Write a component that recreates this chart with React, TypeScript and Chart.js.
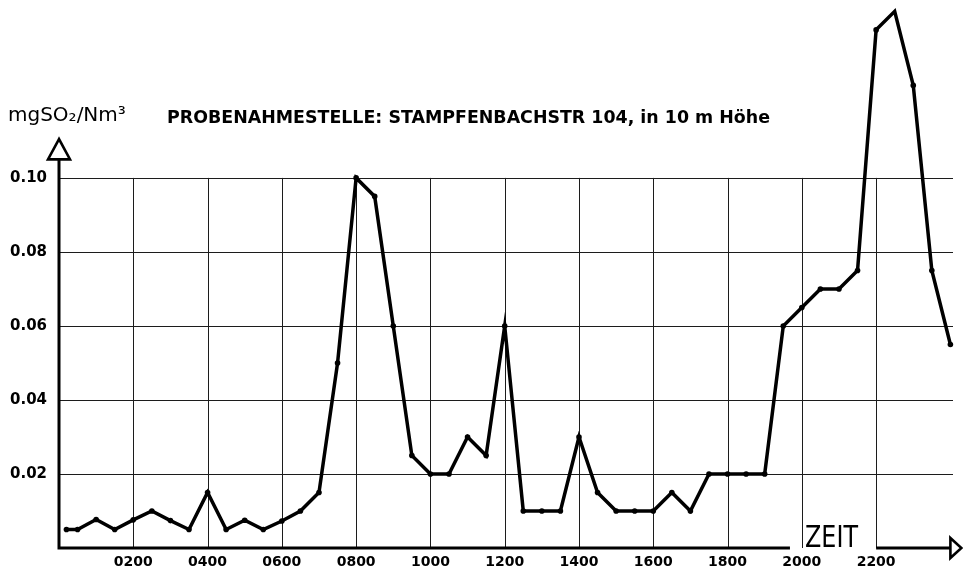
import { useEffect, useRef } from "react";
import { Chart, registerables } from "chart.js";

Chart.register(...registerables);

// time of day in hours
const hours = [
  0.2, 0.5, 1, 1.5, 2, 2.5, 3, 3.5, 4, 4.5, 5, 5.5, 6, 6.5, 7, 7.5, 8, 8.5, 9, 9.5,
  10, 10.5, 11, 11.5, 12, 12.5, 13, 13.5, 14, 14.5, 15, 15.5, 16, 16.5, 17, 17.5,
  18, 18.5, 19, 19.5, 20, 20.5, 21, 21.5, 22, 22.5, 23, 23.5, 24,
];
// SO2 concentration, mg/Nm³
const so2 = [
  0.005, 0.005, 0.0077, 0.005, 0.0076, 0.01, 0.0074, 0.005, 0.015, 0.005, 0.0075,
  0.005, 0.0073, 0.01, 0.015, 0.05, 0.1, 0.095, 0.06, 0.025,
  0.02, 0.02, 0.03, 0.025, 0.06, 0.01, 0.01, 0.01, 0.03, 0.015, 0.01, 0.01, 0.01,
  0.015, 0.01, 0.02, 0.02, 0.02, 0.02, 0.06, 0.065, 0.07, 0.07, 0.075, 0.14, 0.145,
  0.125, 0.075, 0.055,
];
const xTickHours = [2, 4, 6, 8, 10, 12, 14, 16, 18, 20, 22];
const yTickValues = [0.02, 0.04, 0.06, 0.08, 0.1];
const yUnitLabel = "mgSO₂/Nm³";
const chartTitle = "PROBENAHMESTELLE: STAMPFENBACHSTR 104, in 10 m Höhe";
const xAxisLabel = "ZEIT";

const decor = {
  id: "decor",
  beforeDatasetsDraw(chart: any) {
    const { ctx, chartArea, scales } = chart;
    const x = scales.x;
    const y = scales.y;
    const y0 = y.getPixelForValue(0);
    const x0 = x.getPixelForValue(0);
    const yTop = y.getPixelForValue(0.1);
    ctx.save();
    ctx.strokeStyle = "#1c1c1c";
    ctx.lineWidth = 1;
    ctx.beginPath();
    for (const v of yTickValues) {
      const py = Math.round(y.getPixelForValue(v)) + 0.5;
      ctx.moveTo(chartArea.left, py);
      ctx.lineTo(chartArea.right, py);
    }
    for (const h of xTickHours) {
      const px = Math.round(x.getPixelForValue(h)) + 0.5;
      ctx.moveTo(px, yTop);
      ctx.lineTo(px, y0);
    }
    ctx.stroke();

    // axes
    ctx.strokeStyle = "#000";
    ctx.lineWidth = 3;
    ctx.lineCap = "butt";
    const yArrowBase = y.getPixelForValue(0.105);
    const yArrowTip = y.getPixelForValue(0.1105);
    ctx.beginPath();
    ctx.moveTo(x0, y0 + 1.5);
    ctx.lineTo(x0, yArrowBase);
    ctx.moveTo(x0 - 1.5, y0);
    ctx.lineTo(x.getPixelForValue(19.68), y0);
    ctx.moveTo(x.getPixelForValue(22), y0);
    ctx.lineTo(x.getPixelForValue(24.0), y0);
    ctx.stroke();

    ctx.lineWidth = 2.6;
    ctx.lineJoin = "miter";
    ctx.beginPath();
    ctx.moveTo(x0, yArrowTip);
    ctx.lineTo(x0 - 11, yArrowBase);
    ctx.lineTo(x0 + 11, yArrowBase);
    ctx.closePath();
    ctx.stroke();

    const xb = x.getPixelForValue(24.0);
    ctx.beginPath();
    ctx.moveTo(xb, y0 - 10);
    ctx.lineTo(xb + 11, y0);
    ctx.lineTo(xb, y0 + 10);
    ctx.closePath();
    ctx.stroke();

    // texts
    ctx.fillStyle = "#000";
    ctx.textAlign = "left";
    ctx.textBaseline = "alphabetic";
    ctx.font = "20px 'DejaVu Sans'";
    ctx.fillText(yUnitLabel, 8, 121, 120);
    ctx.font = "bold 18px 'DejaVu Sans'";
    ctx.fillText(chartTitle, 167, 123, 603);
    ctx.font = "30px 'DejaVu Sans'";
    ctx.fillText(xAxisLabel, 805, 547, 53);
    ctx.restore();
  },
};

export default function App() {
  const ref = useRef<HTMLCanvasElement>(null);
  useEffect(() => {
    if (!ref.current) return;
    const chart = new Chart(ref.current, {
      type: "line",
      data: {
        datasets: [
          {
            data: hours.map((h, i) => ({ x: h, y: so2[i] })),
            borderColor: "#000",
            backgroundColor: "#000",
            borderWidth: 3.5,
            pointRadius: 2.8,
            pointBackgroundColor: "#000",
            pointBorderWidth: 0,
            tension: 0,
            clip: false as any,
          },
        ],
      },
      options: {
        animation: false,
        responsive: false,
        layout: { padding: { top: 8, right: 10, left: 0, bottom: 0 } },
        plugins: { legend: { display: false }, tooltip: { enabled: false }, title: { display: false } },
        scales: {
          x: {
            type: "linear",
            min: 0,
            max: 24.07,
            border: { display: false },
            grid: { display: false, drawTicks: false },
            afterBuildTicks: (s: any) => {
              s.ticks = xTickHours.map((v) => ({ value: v }));
            },
            afterFit: (s: any) => {
              s.height = 21;
            },
            ticks: {
              padding: 6,
              maxRotation: 0,
              autoSkip: false,
              color: "#000",
              font: { family: "'DejaVu Sans'", size: 14, weight: "bold" },
              callback: (v: any) => String(Math.round(Number(v) * 100)).padStart(4, "0"),
            },
          },
          y: {
            type: "linear",
            min: 0,
            max: 0.1424,
            border: { display: false },
            grid: { display: false, drawTicks: false },
            afterBuildTicks: (s: any) => {
              s.ticks = yTickValues.map((v) => ({ value: v }));
            },
            afterFit: (s: any) => {
              s.width = 59;
            },
            ticks: {
              padding: 12,
              color: "#000",
              font: { family: "'DejaVu Sans'", size: 15, weight: "bold" },
              callback: (v: any) => Number(v).toFixed(2),
            },
          },
        },
      },
      plugins: [decor],
    });
    return () => chart.destroy();
  }, []);
  return (
    <div style={{ position: "fixed", left: 0, top: 0, width: 963, height: 569, background: "#fff" }}>
      <canvas ref={ref} width={963} height={569} style={{ width: 963, height: 569 }} />
    </div>
  );
}
